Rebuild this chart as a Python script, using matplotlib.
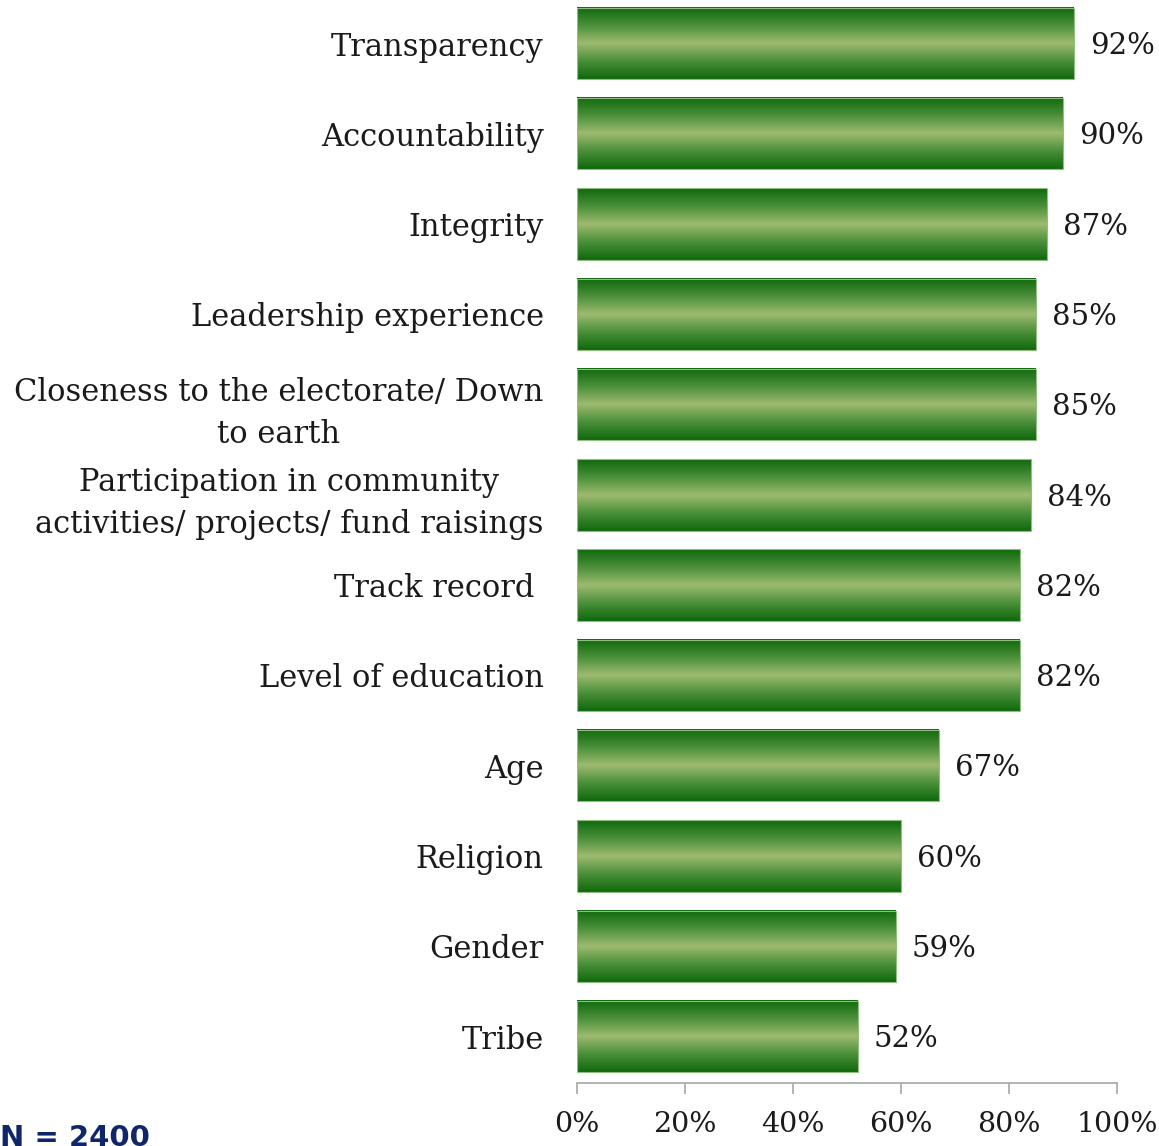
import numpy as np
import matplotlib
matplotlib.use("Agg")
import matplotlib.pyplot as plt
from matplotlib.colors import LinearSegmentedColormap

categories = [
    "Transparency",
    "Accountability",
    "Integrity",
    "Leadership experience",
    "Closeness to the electorate/ Down\nto earth",
    "Participation in community\nactivities/ projects/ fund raisings",
    "Track record ",
    "Level of education",
    "Age",
    "Religion",
    "Gender",
    "Tribe",
]
values = [92, 90, 87, 85, 85, 84, 82, 82, 67, 60, 59, 52]
xticks = [0, 20, 40, 60, 80, 100]
xtick_labels = ["0%", "20%", "40%", "60%", "80%", "100%"]

font = ["DejaVu Serif"]
plt.rcParams["font.family"] = font

fig = plt.figure(figsize=(11.59, 11.46), dpi=100)
ax = fig.add_axes([577 / 1159, 63 / 1146, 540 / 1159, 1083 / 1146])

# vertical gradient: dark green edges, pale green in the middle
grad = LinearSegmentedColormap.from_list(
    "bar", ["#0f690b", "#4a8f3a", "#9dbb6e", "#4a8f3a", "#0f690b"])
g = np.linspace(0, 1, 256).reshape(-1, 1)

h = 0.79
for i, v in enumerate(values):
    ax.imshow(g, cmap=grad, aspect="auto", interpolation="bilinear",
              extent=[0, v, i + h / 2, i - h / 2], zorder=2)
    ax.add_patch(plt.Rectangle((0, i - h / 2), v, h, fill=False,
                               edgecolor="#8fbf80", linewidth=0.8, zorder=3))
    ax.text(v + 3.0, i + 0.03, f"{v}%", ha="left", va="center",
            fontsize=21, color="#1a1a1a")

ax.set_xlim(0, 100)
ax.set_ylim(11.515, -0.482)
ax.set_yticks(range(len(categories)))
ax.set_yticklabels(categories, fontsize=22, color="#1a1a1a",
                   multialignment="center", linespacing=1.45)
ax.tick_params(axis="y", length=0, pad=24)
ax.set_xticks(xticks)
ax.set_xticklabels(xtick_labels, fontsize=20.5, color="#1a1a1a")
ax.tick_params(axis="x", direction="out", length=8, width=1.2,
               color="#a6a6a6", pad=12)

for s in ["top", "right", "left"]:
    ax.spines[s].set_visible(False)
ax.spines["bottom"].set_color("#a6a6a6")
ax.spines["bottom"].set_linewidth(1.2)

fig.text(0.0, 8 / 1146, "N = 2400", fontsize=21, fontweight="bold",
         color="#10266b", family=["DejaVu Sans"], ha="left", va="center")

fig.savefig("out.png", dpi=100)
